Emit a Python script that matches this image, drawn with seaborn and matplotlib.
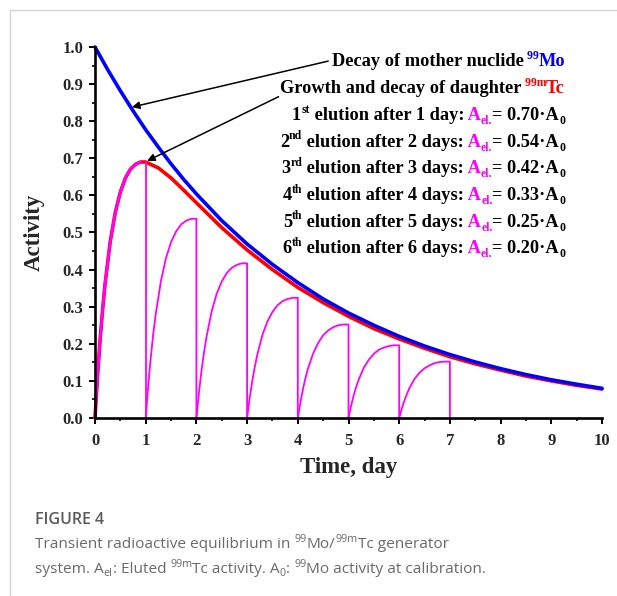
import matplotlib
matplotlib.use("Agg")
import matplotlib.pyplot as plt
import matplotlib as mpl
import seaborn as sns
import numpy as np
from matplotlib.transforms import IdentityTransform
from matplotlib.lines import Line2D
from matplotlib.ticker import MultipleLocator

# decay of mother nuclide 99Mo
mo_t = [0, 0.25, 0.5, 0.75, 1, 1.25, 1.5, 1.75, 2, 2.5, 3, 3.5, 4, 4.5, 5,
        5.5, 6, 6.5, 7, 7.5, 8, 8.5, 9, 9.5, 10]
mo_a = [1.000, 0.939, 0.882, 0.828, 0.777, 0.730, 0.685, 0.643, 0.604, 0.532,
        0.469, 0.414, 0.365, 0.321, 0.283, 0.250, 0.220, 0.194, 0.171, 0.151,
        0.133, 0.117, 0.103, 0.091, 0.080]

# growth and decay of daughter 99mTc
tc_t = [0, 0.05, 0.1, 0.15, 0.2, 0.3, 0.4, 0.5, 0.6, 0.7, 0.8, 0.9, 1,
        1.25, 1.5, 1.75, 2, 2.5, 3, 3.5, 4, 4.5, 5, 5.5, 6, 6.5, 7, 7.5,
        8, 8.5, 9, 9.5, 10]
tc_a = [0, 0.113, 0.210, 0.292, 0.363, 0.475, 0.554, 0.609, 0.647, 0.671,
        0.684, 0.690, 0.690, 0.674, 0.647, 0.614, 0.580, 0.513, 0.453, 0.400,
        0.352, 0.311, 0.274, 0.241, 0.213, 0.188, 0.165, 0.146, 0.129, 0.113,
        0.100, 0.088, 0.078]

# regrowth after each elution (time since previous elution, last point = eluted)
elution_start = [0, 1, 2, 3, 4, 5, 6]
tau = [0, 0.05, 0.1, 0.15, 0.2, 0.3, 0.4, 0.5, 0.6, 0.7, 0.8, 0.9, 1.0, 1.0]
regrowth = [
    [0, 0.113, 0.210, 0.292, 0.363, 0.475, 0.554, 0.609, 0.647, 0.671, 0.684, 0.690, 0.690, 0],
    [0, 0.088, 0.163, 0.228, 0.282, 0.369, 0.431, 0.474, 0.503, 0.522, 0.532, 0.537, 0.537, 0],
    [0, 0.068, 0.127, 0.177, 0.219, 0.287, 0.335, 0.368, 0.391, 0.405, 0.413, 0.417, 0.417, 0],
    [0, 0.053, 0.098, 0.137, 0.170, 0.223, 0.260, 0.286, 0.304, 0.315, 0.321, 0.324, 0.324, 0],
    [0, 0.041, 0.077, 0.107, 0.133, 0.173, 0.202, 0.223, 0.236, 0.245, 0.250, 0.252, 0.252, 0],
    [0, 0.032, 0.060, 0.083, 0.103, 0.135, 0.157, 0.173, 0.184, 0.190, 0.194, 0.196, 0.196, 0],
    [0, 0.025, 0.046, 0.064, 0.080, 0.105, 0.122, 0.134, 0.142, 0.148, 0.151, 0.152, 0.152, 0],
]

ordinals = [("1", "st"), ("2", "nd"), ("3", "rd"), ("4", "th"), ("5", "th"), ("6", "th")]
eluted = ["0.70", "0.54", "0.42", "0.33", "0.25", "0.20"]

BLUE = "#0000ff"
RED = "#ff0000"
MAG = "#ff00ff"
SERIF = ["Liberation Serif", "DejaVu Serif"]

sns.set_style("ticks")
plt.rcParams["font.family"] = SERIF
plt.rcParams["font.weight"] = "bold"

fig = plt.figure(figsize=(6.17, 5.96), dpi=100)
ax = fig.add_axes([95 / 617, 1 - 418 / 596, 507 / 617, 371 / 596])

sns.lineplot(x=tc_t, y=tc_a, color=RED, lw=2.6, ax=ax, sort=False, estimator=None, clip_on=False)
sns.lineplot(x=mo_t, y=mo_a, color=BLUE, lw=2.6, ax=ax, sort=False, estimator=None, clip_on=False)
for k, (t0, seg) in enumerate(zip(elution_start, regrowth)):
    xs = [t0 + s for s in tau]
    sns.lineplot(x=xs, y=seg, color=MAG, lw=1.9 if k == 0 else 1.3, ax=ax,
                 sort=False, estimator=None, clip_on=False)
    if k == 0:
        ax.lines[-1].set_data(xs[:-2], seg[:-2])
        sns.lineplot(x=xs[-2:], y=seg[-2:], color=MAG, lw=1.3, ax=ax, sort=False, estimator=None)

ax.set_xlim(0, 10)
ax.set_ylim(0, 1)
ax.xaxis.set_major_locator(MultipleLocator(1))
ax.xaxis.set_minor_locator(MultipleLocator(0.5))
ax.yaxis.set_major_locator(MultipleLocator(0.1))
ax.yaxis.set_minor_locator(MultipleLocator(0.05))
ax.yaxis.set_major_formatter(mpl.ticker.FormatStrFormatter("%.1f"))
sns.despine(ax=ax)
for s in ["left", "bottom"]:
    ax.spines[s].set_linewidth(1.9)
    ax.spines[s].set_color("black")
ax.tick_params(which="major", length=4.5, width=1.4, color="black", labelsize=12)
ax.tick_params(which="minor", length=2.5, width=1.2, color="black")
ax.tick_params(axis="x", which="major", pad=6.5)
ax.tick_params(axis="y", which="major", pad=4)
for lab in ax.get_xticklabels() + ax.get_yticklabels():
    lab.set_fontweight("bold")
    lab.set_fontfamily(SERIF)

ax.set_xlabel("Time, day", fontsize=16.5, fontweight="bold", family=SERIF)
ax.set_ylabel("Activity", fontsize=16.5, fontweight="bold", family=SERIF)
ax.xaxis.set_label_coords(0.5, -0.105)
ax.yaxis.set_label_coords(-0.10, 0.5)

# arrows
arrow = dict(arrowstyle="-|>", color="black", lw=1.1, mutation_scale=11, shrinkA=0, shrinkB=0)
ax.annotate("", xy=(0.73, 0.838), xytext=(4.60, 0.962), arrowprops=arrow, annotation_clip=False)
ax.annotate("", xy=(1.03, 0.693), xytext=(3.62, 0.866), arrowprops=arrow, annotation_clip=False)

renderer = fig.canvas.get_renderer()
H = 596


def rich(x, y, pieces, size, family, weight, color, ha="left", ratio=0.64):
    cur = x
    arts = []
    for txt, col, kind in pieces:
        fs = size if kind == "" else size * ratio
        dy = {"": 0, "sup": size * 0.40, "sub": -size * 0.22}[kind] * 100 / 72
        t = fig.text(cur, H - y + dy, txt, transform=IdentityTransform(), ha="left",
                     va="baseline", color=col or color, fontsize=fs, family=family,
                     fontweight=weight)
        cur = t.get_window_extent(renderer).x1
        arts.append(t)
    if ha == "right":
        shift = x - cur
        for t in arts:
            px, py = t.get_position()
            t.set_position((px + shift, py))
    return arts


xr = 565
fs_note = 13.2
base = [66.5 + 26.7 * i for i in range(8)]
rich(xr, base[0], [("Decay of mother nuclide", None, ""), (" 99", BLUE, "sup"), ("Mo", BLUE, "")],
     fs_note, SERIF, "bold", "black", "right")
rich(xr, base[1], [("Growth and decay of daughter", None, ""), (" 99m", RED, "sup"), ("Tc", RED, "")],
     fs_note, SERIF, "bold", "black", "right")
for i, ((num, suf), val) in enumerate(zip(ordinals, eluted)):
    day = "day" if i == 0 else "days"
    rich(xr, base[i + 2],
         [(num, None, ""), (suf, None, "sup"),
          (f" elution after {i + 1} {day}:", None, ""),
          (" A", MAG, ""), ("el.", MAG, "sub"),
          (f"= {val}\u00b7A", None, ""), ("0", None, "sub")],
         fs_note, SERIF, "bold", "black", "right")

# caption
CAP = ["Open Sans", "DejaVu Sans"]
GREY = "#6a6a6a"
rich(35, 524, [("FIGURE 4", None, "")], 11.5, CAP, "semibold", "#5a5a5a")
rich(35, 548, [("Transient radioactive equilibrium in ", None, ""), ("99", None, "sup"),
               ("Mo/", None, ""), ("99m", None, "sup"), ("Tc generator", None, "")],
     11.1, CAP, "normal", GREY, ratio=0.7)
rich(35, 573, [("system. A", None, ""), ("el", None, "sub"), (": Eluted ", None, ""),
               ("99m", None, "sup"), ("Tc activity. A", None, ""), ("0", None, "sub"),
               (": ", None, ""), ("99", None, "sup"), ("Mo activity at calibration.", None, "")],
     11.1, CAP, "normal", GREY, ratio=0.7)

# card border
fig.add_artist(Line2D([10 / 617, 10 / 617], [0, 1 - 10 / 596], color="#d4d4d4", lw=1,
                      transform=fig.transFigure))
fig.add_artist(Line2D([10 / 617, 1], [1 - 10 / 596, 1 - 10 / 596], color="#d4d4d4", lw=1,
                      transform=fig.transFigure))

fig.savefig("out.png", dpi=100)
